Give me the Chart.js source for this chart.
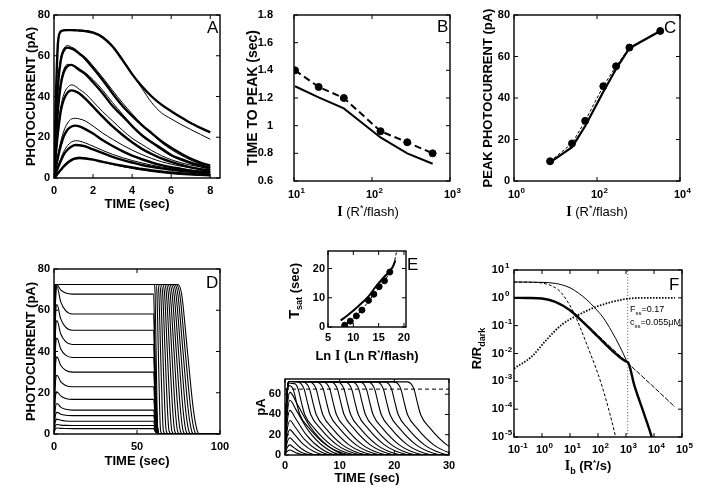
<!DOCTYPE html>
<html><head><meta charset="utf-8">
<script src="https://cdn.jsdelivr.net/npm/chart.js@4/dist/chart.umd.min.js"></script>
<style>
html,body{margin:0;padding:0;background:#fff;width:710px;height:490px;overflow:hidden;position:relative}
canvas{position:absolute}
</style></head><body>
<canvas id="cA" width="232" height="211" style="left:0px;top:5px"></canvas>
<canvas id="cB" width="228" height="216" style="left:240px;top:5px"></canvas>
<canvas id="cC" width="230" height="216" style="left:470px;top:5px"></canvas>
<canvas id="cD" width="237" height="211" style="left:0px;top:259px"></canvas>
<canvas id="cE1" width="147" height="120" style="left:275px;top:243px"></canvas>
<canvas id="cE2" width="209" height="116" style="left:252px;top:371px"></canvas>
<canvas id="cF" width="232" height="222" style="left:470px;top:260px"></canvas>
<script>
// ================= DATA =================
// Panel A: flash responses (time in s, photocurrent in pA)
const timeA = [0,0.1,0.2,0.35,0.5,0.7,0.9,1.1,1.3,1.6,2.0,2.5,3.0,3.5,4.0,4.5,5.0,5.5,6.0,6.5,7.0,7.5,8.0];
const modelA = [
 [0,40,66,72,72.5,72.6,72.6,72.5,72.4,72.1,71.3,69,64.5,58,51,45,40,36,32.8,29.8,27,24.6,22.4],
 [0,25,45,58,62.5,64,63.5,62.5,61,58.5,54,48,41.5,35.5,30.5,26,22,18,14.8,12,9.5,7.6,6],
 [0,18,33,46,52,55,55.5,54.5,53,51,47,41.5,35.3,30.5,25.5,21,17.5,14.5,11.3,9.3,7.5,6.2,5],
 [0,12,22,33,38.5,42,43,42.5,41.5,39,35,30,25.3,21.2,17.5,14.3,11.8,9.6,7.9,6.5,5.2,4.3,3.6],
 [0,5,10,16,20.5,23.8,25.3,25.7,25.3,24,21.8,18.5,15.7,13.2,11,9.2,7.6,6.3,5.3,4.5,3.7,3.2,2.8],
 [0,2.5,5,8.5,11.5,14,15.5,16.2,16.1,15.5,14,12.2,10.4,8.9,7.6,6.4,5.5,4.7,4.1,3.5,3,2.6,2.3],
 [0,1,2.2,4,5.7,7.5,8.8,9.5,9.8,9.6,9,7.9,6.9,6,5.2,4.4,3.7,3.2,2.7,2.3,2,1.7,1.5]
];
const dataA = [
 [0,38,65,71.5,72.3,72.8,72.4,72.6,72.2,72.3,71.6,69.4,65,58.5,51,44,37,32,29,26.3,23.8,21.4,19],
 [0,24,46,59,63.5,65,64.2,63.2,61.4,59.3,55,49.2,43,37,31.5,26.3,21.7,17.4,14,11.2,8.8,6.8,5.2],
 [0,17,34,47,53.2,55.8,55.2,54.8,53.6,51.7,48.3,43,37,31.4,26,21.3,17.2,13.8,10.8,8.7,6.9,5.4,4.2],
 [0,13,24,35,41,44.5,45.7,45,43.5,41.5,37.5,32.5,28,23.5,19.5,16.5,13.5,11,9,7.5,6.3,5.5,4.8],
 [0,5,11,18,23,27,29,29.3,29,28,25.5,22,19,16.2,13.7,11.5,9.6,8,6.8,5.8,5,4.4,4],
 [0,2.5,5.5,9.5,13,16,17.7,18.3,18.1,17.2,15.6,13.5,11.6,10,8.6,7.4,6.3,5.4,4.7,4.1,3.6,3.3,3],
 [0,1,2.4,4.3,6.2,8,9.3,10,10.2,9.9,9.1,7.8,6.6,5.6,4.7,3.9,3.2,2.6,2.1,1.7,1.4,1.2,1.0]
];
// Panel B: time to peak vs flash strength
const bFlash = [10.3, 20.7, 43.5, 128.6, 283, 599];
const bData  = [1.40, 1.28, 1.20, 0.96, 0.88, 0.80];
const bModel = [1.285, 1.205, 1.125, 0.915, 0.80, 0.725];
// Panel C: peak photocurrent vs flash strength
const cFlash = [7.4, 25, 52, 142, 288, 604, 3340];
const cData  = [9.5, 18.1, 29, 45.7, 55.3, 64.3, 72.3];
const cModel = [9.0, 16.3, 26.5, 43.0, 54.0, 64.0, 72.3];
// Panel D: step responses
const dPlateau = [67.8, 58.2, 50.3, 43.4, 37.1, 30.0, 22.9, 16.8, 11.6, 8.9, 6.2, 4.1, 2.6];
const dPeak    = [72.3, 71.5, 62.8, 55.0, 46.5, 37.4, 28.5, 20.5, 14.8, 10.5, 7.2, 4.6, 2.9];
const dSatLevel = 72.5;
const dSatOff  = [60.5, 61.5, 62.5, 63.5, 64.5, 65.5, 66.5, 67.5, 68.5, 69.5, 70.5, 71.5, 72.5, 73.5, 74.5];
const dSatZero = [62.5, 64.2, 65.9, 67.6, 69.3, 71.0, 72.7, 74.4, 76.1, 77.8, 79.5, 81.2, 82.9, 84.6, 86.3];
// Panel E (top): saturation time vs ln I
const eLnI  = [8.3, 9.4, 10.6, 11.7, 13.0, 14.05, 15.1, 16.15, 17.2];
const eTsat = [0.6, 2.0, 3.8, 5.8, 9.1, 11.2, 13.8, 15.8, 18.8];
const eFitLnI  = [8.0, 9.4, 10.6, 11.7, 13.0, 14.05, 15.1, 16.15, 17.2, 18.0, 18.5];
const eFitTsat = [0.2, 2.0, 3.8, 5.9, 8.8, 11.1, 13.4, 15.9, 18.6, 21.5, 25.5];
const eModelLnI  = [7.5, 9, 11.1, 13, 14.4, 16, 17.8, 18.3];
const eModelTsat = [2.2, 4.2, 7.3, 10.5, 13.7, 17, 20.6, 22.8];
// Panel E (bottom): bright flash responses
const eLowPeak = [5, 10, 17, 25, 34, 44, 54, 62];
const eLowEnd  = [4, 5, 6, 7.5, 8.5, 9.5, 10.5, 11.5];
const eSatPeak = [68.5, 71, 72.5, 72.5, 72.5, 72.5, 72.5, 72.5, 72.5, 72.5, 72.5, 72.5, 72.5, 72.5, 72.5, 72.5, 72.5];
const eSatT65  = [1.5, 2.4, 3.5, 4.5, 5.7, 7.0, 8.2, 9.6, 10.8, 12.2, 13.5, 14.9, 16.4, 18.0, 19.5, 21.2, 23.6];
const eCriterion = 65;
// Panel F: steady-state relations (x: R*/s, y: R/Rdark)
const fThick  = [[0.1,1],[0.3,0.99],[1,0.95],[3,0.72],[10,0.36],[30,0.13],[100,0.04],[300,0.0135],[1000,0.0052],[1200,0.0047],[2000,7e-4],[4000,9e-5],[8300,1e-5],[10000,5e-6]];
const fThinUp = [[0.1,3.7],[1,3.6],[3,3.3],[5,2.95],[10,2.3],[20,1.48],[40,0.85],[78,0.43],[150,0.2],[310,0.062],[600,0.018],[1100,0.0049]];
const fDashed = [[0.1,3.7],[0.5,3.6],[1,3.4],[3,2.3],[5,1.48],[13,0.32],[45,0.0155],[135,7.4e-4],[410,1.2e-5],[460,7e-6]];
const fWeber  = [[15,0.28],[100,0.045],[1000,0.0052],[10000,6.1e-4],[56000,1.2e-4]];
const fFss    = [[0.1,0.0029],[0.43,0.0078],[1.28,0.027],[5,0.107],[20,0.245],[79,0.46],[310,0.71],[1200,0.93],[4800,1.0],[56000,1.0]];
const fIbMark = 1150;

// Tick values and labels (log axes: base label + exponent)
const aXTicks=[0,2,4,6,8], aXLabels=['0','2','4','6','8'];
const aYTicks=[0,20,40,60,80], aYLabels=['0','20','40','60','80'];
const bXTicks=[10,100,1000], bXLabels=['10','10','10'], bXExp=['1','2','3'];
const bYTicks=[0.6,0.8,1,1.2,1.4,1.6,1.8], bYLabels=['0.6','0.8','1','1.2','1.4','1.6','1.8'];
const cXTicks=[1,100,10000], cXLabels=['10','10','10'], cXExp=['0','2','4'];
const dXTicks=[0,50,100], dXLabels=['0','50','100'];
const e1XTicks=[5,10,15,20], e1XLabels=['5','10','15','20'];
const e1YTicks=[0,10,20], e1YLabels=['0','10','20'];
const e2XTicks=[0,10,20,30], e2XLabels=['0','10','20','30'];
const e2YTicks=[0,20,40,60], e2YLabels=['0','20','40','60'];
const fXTicks=[0.1,1,10,100,1000,10000,100000], fXLabels=['10','10','10','10','10','10','10'], fXExp=['-1','0','1','2','3','4','5'];
const fYTicks=[1e-5,1e-4,1e-3,1e-2,0.1,1,10], fYLabels=['10','10','10','10','10','10','10'], fYExp=['-5','-4','-3','-2','-1','0','1'];

// ================= HELPERS =================
const SANS='"Liberation Sans", Arial, sans-serif';
const SERIF='"Liberation Serif", "Times New Roman", serif';
const TICK_FONT={family:SANS,size:11,weight:'bold'};
const TITLE_FONT={family:SANS,size:13,weight:'bold'};
const EXP = {cB:{x:bXExp}, cC:{x:cXExp}, cF:{x:fXExp,y:fYExp}};

const RICH = {
 cA:[{segs:[{t:'A',f:'17px '+SANS}],ax:'r',ay:'t',dx:-13,dy:18,align:'left'}],
 cB:[{segs:[{t:'B',f:'17px '+SANS}],ax:'r',ay:'t',dx:-13,dy:17,align:'left'},
     {segs:[{t:'I',f:'bold 14px '+SERIF},{t:' (R',f:'13px '+SANS},{t:'*',f:'9px '+SANS,dy:-5},{t:'/flash)',f:'13px '+SANS}],ax:'c',ay:'b',dx:-4,dy:35}],
 cC:[{segs:[{t:'C',f:'17px '+SANS}],ax:'r',ay:'t',dx:-16,dy:18,align:'left'},
     {segs:[{t:'I',f:'bold 14px '+SERIF},{t:' (R',f:'13px '+SANS},{t:'*',f:'9px '+SANS,dy:-5},{t:'/flash)',f:'13px '+SANS}],ax:'c',ay:'b',dx:0,dy:35}],
 cD:[{segs:[{t:'D',f:'17px '+SANS}],ax:'r',ay:'t',dx:-14,dy:19,align:'left'}],
 cE1:[{segs:[{t:'E',f:'17px '+SANS}],ax:'r',ay:'t',dx:1,dy:19,align:'left'},
      {segs:[{t:'Ln ',f:'bold 13px '+SANS},{t:'I',f:'bold 14px '+SERIF},{t:' (Ln R',f:'bold 13px '+SANS},{t:'*',f:'bold 8px '+SANS,dy:-5},{t:'/flash)',f:'bold 13px '+SANS}],ax:'c',ay:'b',dx:0,dy:32.5},
      {segs:[{t:'T',f:'bold 15px '+SANS},{t:'sat',f:'bold 9px '+SANS,dy:3},{t:' (sec)',f:'bold 13px '+SANS}],ax:'l',ay:'m',dx:-29,dy:2,rot:-Math.PI/2}],
 cE2:[{segs:[{t:'pA',f:'bold 13px '+SANS}],ax:'l',ay:'m',dx:-20,dy:-10,rot:-Math.PI/2}],
 cF:[{segs:[{t:'F',f:'17px '+SANS}],ax:'r',ay:'t',dx:-13,dy:20,align:'left'},
     {segs:[{t:'I',f:'bold 14px '+SERIF},{t:'b',f:'bold 9px '+SANS,dy:4},{t:' (R',f:'bold 13px '+SANS},{t:'*',f:'bold 8px '+SANS,dy:-5},{t:'/s)',f:'bold 13px '+SANS}],ax:'c',ay:'b',dx:-10,dy:33},
     {segs:[{t:'R/R',f:'bold 13px '+SANS},{t:'dark',f:'bold 9px '+SANS,dy:4}],ax:'l',ay:'m',dx:-33,dy:-5,rot:-Math.PI/2},
     {segs:[{t:'F',f:'9px '+SANS},{t:'ss',f:'6px '+SANS,dy:3},{t:'=0.17',f:'9px '+SANS}],ax:'l',ay:'t',dx:116,dy:42,align:'left'},
     {segs:[{t:'c',f:'9px '+SANS},{t:'ss',f:'6px '+SANS,dy:3},{t:'=0.055\u03bcM',f:'9px '+SANS}],ax:'l',ay:'t',dx:116,dy:55,align:'left'}]
};

const richPlugin={id:'rich',afterDraw(chart){
  const ctx=chart.ctx;const a=chart.chartArea;
  const ex=EXP[chart.canvas.id];
  if(ex){
    ctx.save();ctx.fillStyle='#000';ctx.textBaseline='alphabetic';
    ctx.font='bold 11px '+SANS;const w10=ctx.measureText('10').width;
    ['x','y'].forEach(k=>{ if(!ex[k])return; const s=chart.scales[k]; const pad=s.options.ticks.padding;
      s.ticks.forEach((t,i)=>{const p=s.getPixelForValue(t.value); ctx.font='bold 8px '+SANS; ctx.textAlign='left';
        if(k==='x'){const cy=a.bottom+pad+6.6; ctx.fillText(ex[k][i],p+w10/2+0.5,cy-2);}
        else{ctx.fillText(ex[k][i],a.left-pad+1,p-2);}
      });});
    ctx.restore();
  }
  const items=RICH[chart.canvas.id]||[];
  items.forEach(it=>{
    const bx=it.ax==='l'?a.left:it.ax==='r'?a.right:(a.left+a.right)/2;
    const by=it.ay==='t'?a.top:it.ay==='b'?a.bottom:(a.top+a.bottom)/2;
    ctx.save();ctx.translate(bx+(it.dx||0),by+(it.dy||0));if(it.rot)ctx.rotate(it.rot);
    ctx.fillStyle='#000';ctx.textBaseline='alphabetic';ctx.textAlign='left';
    let w=0;it.segs.forEach(s=>{ctx.font=s.f;w+=ctx.measureText(s.t).width;});
    let x=it.align==='left'?0:it.align==='right'?-w:-w/2;
    it.segs.forEach(s=>{ctx.font=s.f;ctx.fillText(s.t,x,s.dy||0);x+=ctx.measureText(s.t).width;});
    ctx.restore();
  });
}};
const framePlugin={id:'frame',afterDatasetsDraw(chart){
  const {ctx,chartArea:a,scales}=chart;
  ctx.save();ctx.strokeStyle='#000';ctx.lineWidth=1.4;
  ctx.strokeRect(a.left,a.top,a.right-a.left,a.bottom-a.top);
  const L=4;ctx.lineWidth=1;ctx.beginPath();
  scales.x.ticks.forEach(t=>{const p=scales.x.getPixelForValue(t.value);ctx.moveTo(p,a.bottom);ctx.lineTo(p,a.bottom-L);ctx.moveTo(p,a.top);ctx.lineTo(p,a.top+L);});
  scales.y.ticks.forEach(t=>{const p=scales.y.getPixelForValue(t.value);ctx.moveTo(a.left,p);ctx.lineTo(a.left+L,p);ctx.moveTo(a.right,p);ctx.lineTo(a.right-L,p);});
  ctx.stroke();ctx.restore();
}};
Chart.register(richPlugin,framePlugin);

function axis(a,horiz){
  return {
    type:a.type||'linear',min:a.min,max:a.max,bounds:'data',
    afterBuildTicks:s=>{s.ticks=a.ticks.map(v=>({value:v}));},
    afterFit:s=>{if(horiz)s.height=a.size;else s.width=a.size;s.paddingTop=0;s.paddingBottom=0;s.paddingLeft=0;s.paddingRight=0;},
    grid:{display:false,drawTicks:false},border:{display:false},
    ticks:{padding:a.pad,color:'#000',font:a.font||TICK_FONT,autoSkip:false,maxRotation:0,minRotation:0,callback:(v,i)=>a.labels[i]},
    title:a.title?{display:true,text:a.title,color:'#000',font:a.tfont||TITLE_FONT,padding:horiz?{top:0,bottom:a.tpad}:{top:a.tpad,bottom:0}}:{display:false}
  };
}
function makeChart(id,p,datasets){
  return new Chart(document.getElementById(id),{
    type:'line',data:{datasets},
    options:{responsive:false,animation:false,devicePixelRatio:1,events:[],
      layout:{padding:{top:p.pt,right:p.pr,left:0,bottom:0}},
      plugins:{legend:{display:false},tooltip:{enabled:false}},
      elements:{point:{radius:0},line:{borderColor:'#000',borderWidth:1,fill:false,tension:0}},
      scales:{x:axis(p.x,true),y:axis(p.y,false)}}
  });
}
const pts=(xs,ys)=>xs.map((x,i)=>({x,y:ys[i]}));
const pairs=arr=>arr.map(p=>({x:p[0],y:p[1]}));
const line=(data,w,extra)=>Object.assign({data,borderColor:'#000',borderWidth:w,pointRadius:0,cubicInterpolationMode:'monotone'},extra||{});
const dots=(data,r)=>({data,showLine:false,pointRadius:r,pointBackgroundColor:'#000',pointBorderColor:'#000',borderColor:'#000'});

// ================= PANEL A =================
const dsA=[];
dataA.forEach(c=>dsA.push(line(pts(timeA,c),1)));
modelA.forEach(c=>dsA.push(line(pts(timeA,c),2.4)));
makeChart('cA',{pt:10,pr:12,
  x:{min:0,max:8.5,ticks:aXTicks,labels:aXLabels,size:38,pad:6.4,title:'TIME (sec)',tpad:4.2},
  y:{min:0,max:80,ticks:aYTicks,labels:aYLabels,size:54,pad:4,title:'PHOTOCURRENT (pA)',tpad:23.7}},dsA);

// ================= PANEL B =================
makeChart('cB',{pt:10,pr:18,
  x:{type:'logarithmic',min:10,max:1000,ticks:bXTicks,labels:bXLabels,size:40,pad:7.4},
  y:{min:0.6,max:1.8,ticks:bYTicks,labels:bYLabels,size:54,pad:21,title:'TIME TO PEAK (sec)',tfont:{family:SANS,size:14,weight:'bold'},tpad:4.6}},
  [line(pts(bFlash,bModel),2,{cubicInterpolationMode:'default'}),
   line(pts(bFlash,bData),2,{cubicInterpolationMode:'default',borderDash:[7,4]}),
   dots(pts(bFlash,bData),3.5)]);

// ================= PANEL C =================
makeChart('cC',{pt:10,pr:20,
  x:{type:'logarithmic',min:1,max:10000,ticks:cXTicks,labels:cXLabels,size:40,pad:7.4},
  y:{min:0,max:80,ticks:aYTicks,labels:aYLabels,size:44,pad:4,title:'PEAK PHOTOCURRENT (pA)',tpad:10.5}},
  [line(pts(cFlash,cModel),2.2,{cubicInterpolationMode:'default'}),
   line(pts(cFlash,cData),1,{cubicInterpolationMode:'default',borderDash:[3,2]}),
   dots(pts(cFlash,cData),3.5)]);

// ================= PANEL D =================
const dsD=[];
dPlateau.forEach((pl,i)=>{const pk=dPeak[i];
  dsD.push(line(pairs([[0,0],[0.7,0.8*pk],[1.8,pk],[4,pl+0.45*(pk-pl)],[7,pl+0.12*(pk-pl)],[11,pl],[60,pl],[61,0.45*pl],[62.2,0.08*pl],[63.5,0],[100,0]]),1.1));});
dSatOff.forEach((off,i)=>{const d=dSatZero[i]-off;
  dsD.push(line(pairs([[0,0],[0.6,dSatLevel],[off,dSatLevel],[off+0.2*d,68],[off+0.5*d,40],[off+0.8*d,12],[off+d,1.5],[off+d+1.5,0],[100,0]]),1.1));});
makeChart('cD',{pt:10,pr:17,
  x:{min:0,max:100,ticks:dXTicks,labels:dXLabels,size:36,pad:6.7,title:'TIME (sec)',tpad:0.5},
  y:{min:0,max:80,ticks:aYTicks,labels:aYLabels,size:54,pad:4,title:'PHOTOCURRENT (pA)',tpad:23.9}},dsD);

// ================= PANEL E (top) =================
makeChart('cE1',{pt:8,pr:16,
  x:{min:5,max:20.4,ticks:e1XTicks,labels:e1XLabels,size:36,pad:4.1},
  y:{min:0,max:26,ticks:e1YTicks,labels:e1YLabels,size:53,pad:3}},
  [line(pts(eModelLnI,eModelTsat),2),
   line(pts(eFitLnI,eFitTsat),1,{borderDash:[3,2]}),
   dots(pts(eLnI,eTsat),3)]);

// ================= PANEL E (bottom) =================
const dsE=[];
eLowPeak.forEach((p,i)=>{const E=eLowEnd[i];
  dsE.push(line(pairs([[0,0],[0.3,0.6*p],[0.9,p],[0.9+0.12*(E-0.9),0.82*p],[0.9+0.35*(E-0.9),0.45*p],[0.9+0.65*(E-0.9),0.15*p],[E,0],[30,0]]),1.1));});
eSatT65.forEach((t,i)=>{const pk=eSatPeak[i];const a=[[0,0],[0.3,0.75*pk],[0.8,pk]];
  if(t-1.2>0.85)a.push([t-1.2,pk-0.3]);
  if(t-0.5>0.85)a.push([t-0.5,Math.min(70,pk-0.3)]);
  a.push([t,65],[t+0.6,52],[t+1.2,40],[t+3,26],[t+6,10],[t+9,2],[t+11,0],[40,0]);
  dsE.push(line(pairs(a),1.1));});
dsE.push(line(pairs([[0,eCriterion],[30,eCriterion]]),1,{borderDash:[4,3]}));
makeChart('cE2',{pt:8,pr:12,
  x:{min:0,max:30,ticks:e2XTicks,labels:e2XLabels,size:32,pad:4.4,title:'TIME (sec)',tpad:0.9},
  y:{min:0,max:75,ticks:e2YTicks,labels:e2YLabels,size:33,pad:4}},dsE);

// ================= PANEL F =================
makeChart('cF',{pt:10,pr:20,
  x:{type:'logarithmic',min:0.1,max:100000,ticks:fXTicks,labels:fXLabels,size:45,pad:6.4},
  y:{type:'logarithmic',min:1e-5,max:10,ticks:fYTicks,labels:fYLabels,size:44,pad:10}},
  [line(pairs(fThick),2.4),
   line(pairs(fThinUp),1),
   line(pairs(fDashed),1,{borderDash:[3,2]}),
   line(pairs(fWeber),1,{borderDash:[5,1.5]}),
   line(pairs(fFss),1.8,{borderDash:[1.5,1.5]}),
   line(pairs([[fIbMark,1e-5],[fIbMark,10]]),1,{borderDash:[1,2],borderColor:'#555'})]);
</script>
</body></html>
